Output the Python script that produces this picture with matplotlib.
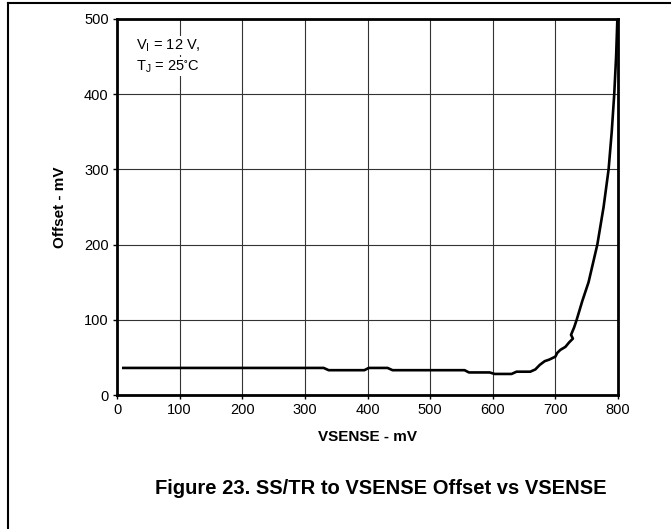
import matplotlib.pyplot as plt
from matplotlib.lines import Line2D

plt.rcParams['font.family'] = ['Liberation Sans', 'DejaVu Sans']

# VSENSE (mV) vs SS/TR offset (mV)
vsense = [10, 330, 338, 395, 402, 432, 440, 555, 562, 595, 603, 630, 638, 660,
          668, 675, 683, 690, 700, 703, 708, 716, 722, 728, 725, 730, 734, 743,
          753, 767, 777, 785, 790, 794, 797, 799]
offset = [36, 36, 33, 33, 36, 36, 33, 33, 30, 30, 28, 28, 31, 31,
          34, 40, 45, 47, 51, 56, 60, 64, 70, 75, 80, 90, 100, 125,
          150, 200, 250, 300, 350, 400, 450, 500]

x_ticks = [0, 100, 200, 300, 400, 500, 600, 700, 800]
y_ticks = [0, 100, 200, 300, 400, 500]

fig = plt.figure(figsize=(6.71, 5.29), dpi=100)
ax = fig.add_axes([0.1744, 0.2533, 0.7466, 0.7108])

ax.plot(vsense, offset, color='black', lw=1.9, solid_joinstyle='round')

ax.set_xlim(0, 800)
ax.set_ylim(0, 500)
ax.set_xticks(x_ticks)
ax.set_yticks(y_ticks)
ax.tick_params(labelsize=10.5, length=3, width=1, direction='out', pad=3)
ax.grid(True, color='#333333', lw=0.8)
for sp in ax.spines.values():
    sp.set_linewidth(2)

ax.set_xlabel('VSENSE - mV', fontsize=11, fontweight='bold', labelpad=9)
ax.set_ylabel('Offset - mV', fontsize=11, fontweight='bold', labelpad=12)

ax.text(30, 465, r'V$_\mathregular{I}$ = 12 V,', fontsize=10.5, va='center',
        bbox=dict(facecolor='white', edgecolor='none', pad=1))
ax.text(30, 437, r'T$_\mathregular{J}$ = 25$\mathregular{^{\circ}}$C', fontsize=10.5, va='center',
        bbox=dict(facecolor='white', edgecolor='none', pad=1))

fig.text(0.567, 0.0775, 'Figure 23. SS/TR to VSENSE Offset vs VSENSE',
         fontsize=14.5, fontweight='bold', ha='center', va='center')

# partial page frame (top and left edges)
fig.add_artist(Line2D([8 / 671, 1], [1 - 3 / 529, 1 - 3 / 529],
                      transform=fig.transFigure, color='black', lw=1.5))
fig.add_artist(Line2D([8 / 671, 8 / 671], [0, 1 - 3 / 529],
                      transform=fig.transFigure, color='black', lw=1.5))

fig.savefig('out.png', dpi=100)
